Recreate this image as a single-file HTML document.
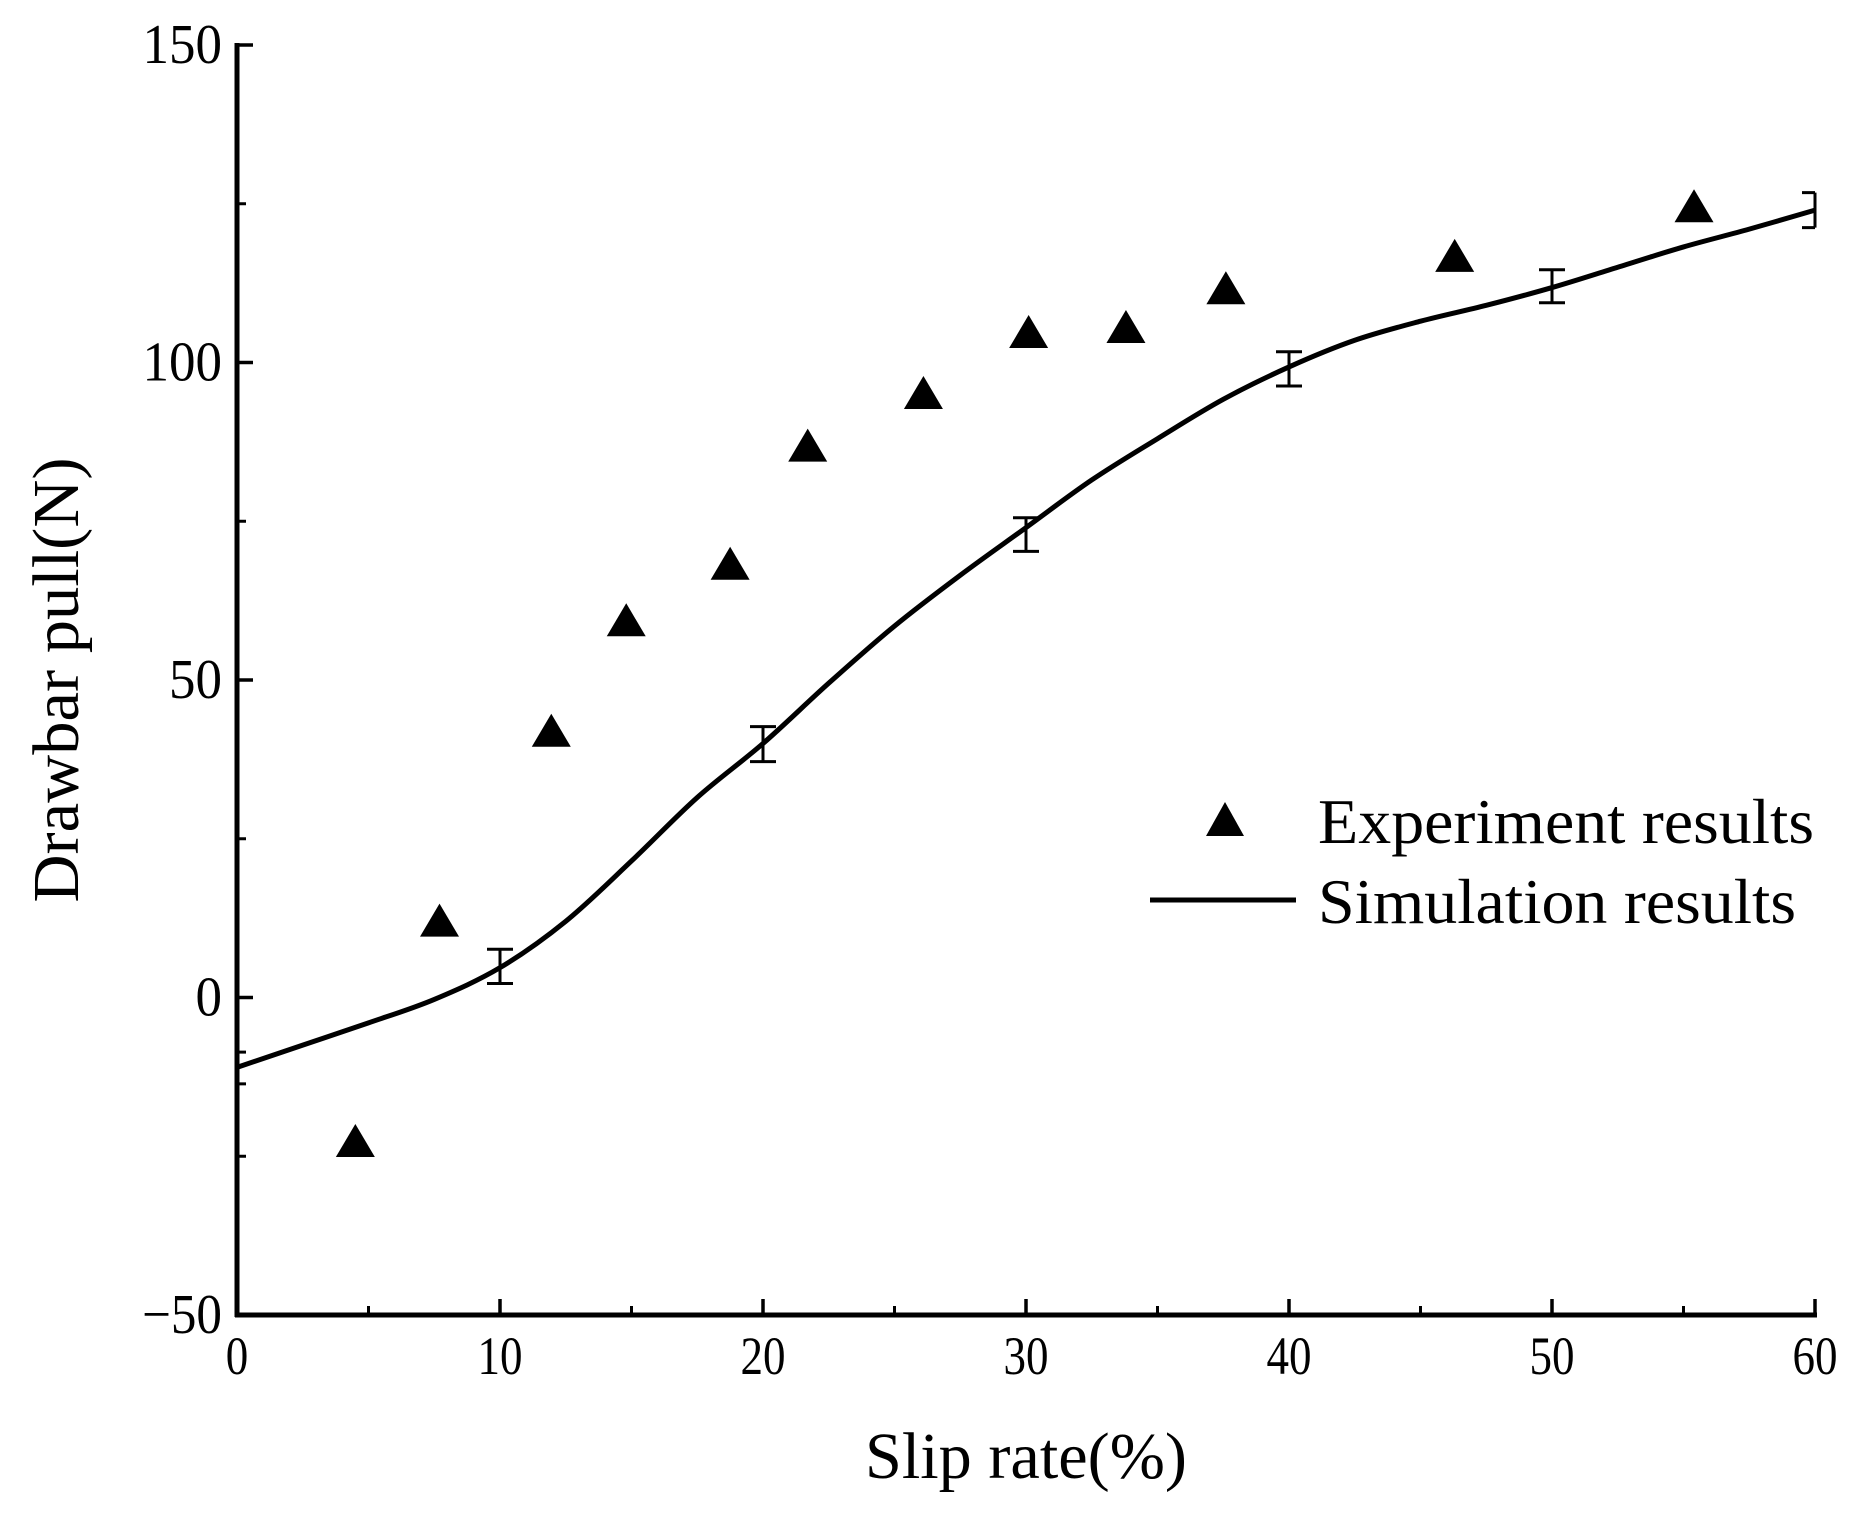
<!DOCTYPE html>
<html><head><meta charset="utf-8"><style>
html,body{margin:0;padding:0;background:#fff;}
svg{display:block;font-family:"Liberation Serif","Times New Roman",serif;}
</style></head><body>
<svg id="chart" width="1860" height="1513" viewBox="0 0 1860 1513" xmlns="http://www.w3.org/2000/svg">
<g id="axes"></g>
<g id="series"></g>
<g id="legend">
  <path d="M1225 802 L1244 836 L1206 836 Z" fill="#000"/>
  <text x="1318" y="843" font-size="64" textLength="496" lengthAdjust="spacingAndGlyphs">Experiment results</text>
  <line x1="1150" y1="900" x2="1296" y2="900" stroke="#000" stroke-width="5"/>
  <text x="1318" y="923" font-size="64" textLength="478" lengthAdjust="spacingAndGlyphs">Simulation results</text>
</g>
<text x="1026" y="1478" font-size="66" text-anchor="middle" textLength="322" lengthAdjust="spacingAndGlyphs">Slip rate(%)</text>
<text transform="translate(78,680) rotate(-90)" font-size="66" text-anchor="middle" textLength="445" lengthAdjust="spacingAndGlyphs">Drawbar pull(N)</text>
</svg>
<script>
const xTicks = [0,10,20,30,40,50,60];
const xMinor = [5,15,25,35,45,55];
const yTicks = [-50,0,50,100,150];
const yMinor = [-25,25,75,125];
const yExtraTicks = [-8.6,-13.6];
const expX = [4.5,7.7,11.95,14.8,18.75,21.7,26.1,30.1,33.8,37.6,46.3,55.4];
const expY = [-22.6,12.1,42.0,59.4,68.3,86.9,95.2,104.8,105.6,111.7,116.8,124.6];
const simX = [0,2.5,5,7.5,10,12.5,15,17.5,20,22.5,25,27.5,30,32.5,35,37.5,40,42.5,45,47.5,50,52.5,55,57.5,60];
const simY = [-11,-7.5,-4,-0.3,4.7,12,21.5,31.5,40,49.5,58.5,66.5,74,81.5,88,94.2,99.3,103.5,106.5,109,111.8,115,118.2,121,124];
const errX = [10,20,30,40,50,60];
const errY = [4.9,39.9,72.9,99,112,124];
const errD = [2.7,2.75,2.65,2.7,2.6,2.75];

const X0=237, X1=1815, Y0=1315, Y1=45;
const xs = v => X0 + (v-0)/(60-0)*(X1-X0);
const ys = v => Y0 - (v-(-50))/(150-(-50))*(Y0-Y1);
const NS='http://www.w3.org/2000/svg';
function mk(tag, attrs, parent){const e=document.createElementNS(NS,tag);for(const k in attrs)e.setAttribute(k,attrs[k]);parent.appendChild(e);return e;}
const axes=document.getElementById('axes'), series=document.getElementById('series');

let e;
e=mk('line',{x1:X0,y1:Y1-2,x2:X0,y2:Y0+2,stroke:'#000','stroke-width':5},axes);


e=mk('line',{x1:X0-2,y1:Y0,x2:X1+2,y2:Y0,stroke:'#000','stroke-width':5},axes);



xTicks.forEach(v=>{
  const t=mk('line',{x1:xs(v),y1:Y0,x2:xs(v),y2:Y0-16,stroke:'#000','stroke-width':3.5},axes);
  
  
  const s=String(v);
  const l=mk('text',{x:xs(v),y:1374,'font-size':54,'text-anchor':'middle',textLength:s.length*22.5,lengthAdjust:'spacingAndGlyphs'},axes);
  l.textContent=s;
  
  
});
xMinor.forEach(v=>{
  const t=mk('line',{x1:xs(v),y1:Y0,x2:xs(v),y2:Y0-9,stroke:'#000','stroke-width':3},axes);
  
  
});
yTicks.forEach(v=>{
  const t=mk('line',{x1:X0,y1:ys(v),x2:X0+16,y2:ys(v),stroke:'#000','stroke-width':3.5},axes);
  
  
  const s=v<0?'\u2212'+Math.abs(v):String(v);
  const l=mk('text',{x:222,y:ys(v)+18,'font-size':56,'text-anchor':'end',textLength:v<0?80:String(v).length*26.5,lengthAdjust:'spacingAndGlyphs'},axes);
  l.textContent=s;
  
  
});
yMinor.concat(yExtraTicks).forEach(v=>{
  const t=mk('line',{x1:X0,y1:ys(v),x2:X0+9,y2:ys(v),stroke:'#000','stroke-width':3},axes);
  
  
});

const pts=simX.map((x,i)=>[xs(x),ys(simY[i])]);
let d='M'+pts[0][0]+' '+pts[0][1];
for(let i=0;i<pts.length-1;i++){
  const p0=pts[Math.max(0,i-1)],p1=pts[i],p2=pts[i+1],p3=pts[Math.min(pts.length-1,i+2)];
  const c1=[p1[0]+(p2[0]-p0[0])/6,p1[1]+(p2[1]-p0[1])/6];
  const c2=[p2[0]-(p3[0]-p1[0])/6,p2[1]-(p3[1]-p1[1])/6];
  d+=` C${c1[0]} ${c1[1]} ${c2[0]} ${c2[1]} ${p2[0]} ${p2[1]}`;
}
e=mk('path',{d:d,fill:'none',stroke:'#000','stroke-width':5,'stroke-linejoin':'round'},series);



errX.forEach((x,i)=>{
  const cx=xs(x), t=ys(errY[i]+errD[i]), b=ys(errY[i]-errD[i]);
  const last = i===errX.length-1;
  const dl = last ? `M${cx} ${t} V${b} M${cx-13} ${t} H${cx} M${cx-13} ${b} H${cx}`
                  : `M${cx} ${t} V${b} M${cx-13} ${t} H${cx+13} M${cx-13} ${b} H${cx+13}`;
  const g=mk('path',{d:dl,fill:'none',stroke:'#000','stroke-width':3},series);
  
  
});

expX.forEach((x,i)=>{
  const cx=xs(x), cy=ys(expY[i]);
  const p=mk('path',{d:`M${cx} ${cy-17} L${cx+19.5} ${cy+16} L${cx-19.5} ${cy+16} Z`,fill:'#000'},series);
  
  
});
</script>
</body></html>
